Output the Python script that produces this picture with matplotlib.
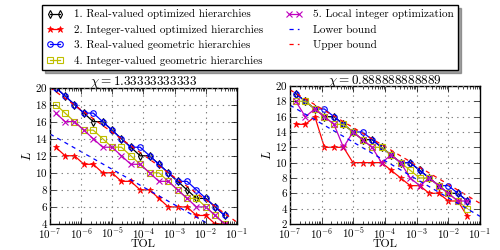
import matplotlib
matplotlib.use('Agg')
import matplotlib.pyplot as plt
from matplotlib.ticker import LogLocator, MultipleLocator

plt.style.use('classic')
plt.rcParams['font.family'] = 'serif'
plt.rcParams['font.serif'] = ['cmr10', 'DejaVu Serif']
plt.rcParams['mathtext.fontset'] = 'cm'
plt.rcParams['axes.formatter.use_mathtext'] = True
plt.rcParams['figure.facecolor'] = 'white'
plt.rcParams['savefig.facecolor'] = 'white'

# tolerances: 0.04 / 2^k, listed from small to large
tol = [0.04 / 2 ** k for k in range(18, -1, -1)]

# chi = 1.333...
left_real_opt = [20, 19, 18, 17, 16, 16, 15, 14, 13, 12, 12, 11, 10, 9, 8, 7, 7, 6, 5]
left_int_opt = [13, 12, 12, 11, 11, 10, 10, 9, 9, 8, 8, 7, 6, 6, 6, 5, 5, 4, 4]
left_real_geo = [20, 19, 18, 17, 17, 16, 15, 14, 13, 13, 12, 11, 10, 9, 9, 8, 7, 6, 5]
left_int_geo = [18, 17, 16, 15, 15, 14, 13, 13, 12, 11, 10, 10, 9, 8, 7, 7, 6, 5, 4]
left_local = [17, 16, 16, 15, 14, 13, 13, 12, 11, 11, 10, 9, 9, 8, 7, 6, 6, 5, 4]
left_bound_tol = [1e-7, 1e-1]
left_lower = [14.55, 2.1]
left_upper = [20.0, 4.2]

# chi = 0.888...
right_real_opt = [19, 18, 17, 16, 16, 15, 14, 13, 13, 12, 11, 10, 10, 9, 8, 7, 6, 6, 5]
right_int_opt = [15, 15, 16, 12, 12, 12, 10, 10, 10, 10, 9, 8, 7, 7, 6, 6, 5, 5, 3]
right_real_geo = [19, 18, 17, 17, 16, 15, 14, 14, 13, 12, 11, 10, 10, 9, 8, 7, 7, 6, 5]
right_int_geo = [18, 18, 17, 16, 15, 15, 14, 13, 12, 12, 11, 10, 9, 8, 8, 7, 6, 5, 4]
right_local = [18, 16, 17, 16, 15, 12, 14, 13, 12, 10, 11, 10, 8, 7, 8, 7, 6, 5, 5]
right_bound_tol = [1e-7, 1e-1]
right_lower = [17.5, 3.0]
right_upper = [19.5, 4.7]

labels = ['1. Real-valued optimized hierarchies',
          '2. Integer-valued optimized hierarchies',
          '3. Real-valued geometric hierarchies',
          '4. Integer-valued geometric hierarchies',
          '5. Local integer optimization',
          'Lower bound', 'Upper bound']

fig = plt.figure(figsize=(5, 2.5), dpi=100)
ax1 = fig.add_axes([0.1, 0.104, 0.374, 0.546])
ax2 = fig.add_axes([0.58, 0.104, 0.38, 0.552])

def draw(ax, ro, io, rg, ig, lo, btol, lower, upper, title, ymin):
    ms = 4
    h = []
    h += ax.semilogx(tol, ro, 'k-', marker='d', mfc='none', mec='k', ms=ms, mew=0.8, lw=0.9)
    h += ax.semilogx(tol, io, 'r-', marker='*', mfc='r', mec='r', ms=ms + 1, lw=0.9)
    h += ax.semilogx(tol, rg, 'b-', marker='o', mfc='none', mec='b', ms=ms, mew=0.8, lw=0.9)
    h += ax.semilogx(tol, ig, 'y-', marker='s', mfc='none', mec='y', ms=ms, mew=0.8, lw=0.9)
    h += ax.semilogx(tol, lo, 'm-', marker='x', mec='m', ms=ms, mew=0.8, lw=0.9)
    h += ax.semilogx(btol, lower, 'b--', lw=0.9, dashes=(3, 3))
    h += ax.semilogx(btol, upper, 'r--', lw=0.9, dashes=(3, 3))
    ax.set_xlim(1e-7, 1e-1)
    ax.set_ylim(ymin, 20)
    ax.xaxis.set_major_locator(LogLocator(base=10, numticks=10))
    ax.yaxis.set_major_locator(MultipleLocator(2))
    ax.grid(True, color='0.5', linestyle=':', linewidth=0.8)
    ax.tick_params(labelsize=8, pad=1.5)
    ax.set_xlabel('TOL', fontsize=8.5, labelpad=-1)
    ax.set_ylabel('$L$', fontsize=9, labelpad=1)
    ax.set_title(title, fontsize=9.5, pad=1.5)
    return h

hs = draw(ax1, left_real_opt, left_int_opt, left_real_geo, left_int_geo, left_local,
          left_bound_tol, left_lower, left_upper, r'$\chi = 1.33333333333$', 4)
draw(ax2, right_real_opt, right_int_opt, right_real_geo, right_int_geo, right_local,
     right_bound_tol, right_lower, right_upper, r'$\chi = 0.888888888889$', 2)

fig.legend(hs, labels, loc='upper center', bbox_to_anchor=(0.5, 0.98), ncol=2,
           fontsize=8, numpoints=2, shadow=True, fancybox=False, framealpha=1,
           handlelength=1.5, handletextpad=1.0, columnspacing=2.0,
           labelspacing=0.48, borderpad=0.4, borderaxespad=0)

fig.savefig('out.png', dpi=100)
